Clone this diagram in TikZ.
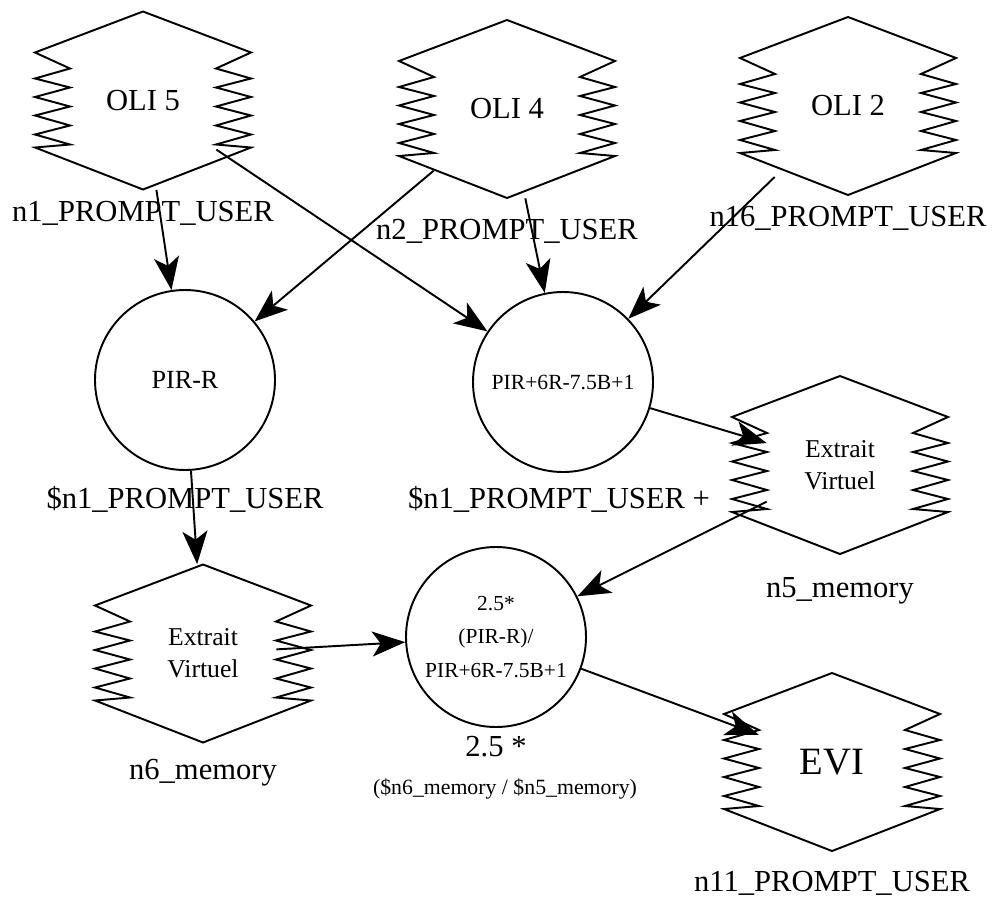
\documentclass[tikz,border=0pt]{standalone}
\usepackage{fontspec}
\setmainfont{Liberation Serif}
\usetikzlibrary{positioning, arrows.meta}

% outline of the zigzag boxes, around their centre
\newcommand{\oliborder}{(0,1.78) -- (2.16,0.96) -- (1.46,0.64) -- (2.16,0.44) -- (1.46,0.26)
    -- (2.16,0.07) -- (1.46,-0.12) -- (2.16,-0.30) -- (1.46,-0.50) -- (2.16,-0.68)
    -- (1.46,-0.88) -- (2.16,-0.94) -- (0,-1.78) -- (-2.16,-0.94) -- (-1.46,-0.88)
    -- (-2.16,-0.68) -- (-1.46,-0.50) -- (-2.16,-0.30) -- (-1.46,-0.12) -- (-2.16,0.07)
    -- (-1.46,0.26) -- (-2.16,0.44) -- (-1.46,0.64) -- (-2.16,0.96) -- cycle}

\begin{document}
\begin{tikzpicture}[
    on grid,
    every node/.style={font=\fontsize{17.4}{20}\selectfont},
    oli/.style={rectangle, minimum width=2.92cm, minimum height=3.56cm, inner sep=0pt, align=center,
        append after command={\pgfextra{\draw[line width=1.1pt, shift={(\tikzlastnode.center)}] \oliborder;}}},
    formula/.style={draw, circle, minimum size=3.6cm, inner sep=0pt, align=center, line width=1.1pt},
    varname/.style={inner sep=0pt},
    arrow/.style={-{Stealth[length=0.66cm, width=0.5cm, inset=0.17cm]}, line width=1.1pt}
]
    \useasboundingbox (0,0) rectangle (19.84,-17.98);

    \node[oli] (oli5) at (2.86,-2.01) {OLI 5};
    \node[oli, below right=0.17cm and 7.28cm of oli5] (oli4) {OLI 4};
    \node[oli, above right=0.06cm and 6.82cm of oli4] (oli2) {OLI 2};

    \node[formula, font=\fontsize{14.9}{18}\selectfont, below right=5.59cm and 0.84cm of oli5] (pirr) {PIR-R};
    \node[formula, font=\fontsize{12.3}{15}\selectfont, below right=5.46cm and 1.12cm of oli4] (pirb) {PIR+6R-7.5B+1};

    \node[oli, font=\fontsize{14.6}{18.2}\selectfont, below right=1.66cm and 5.54cm of pirb] (ext5) {Extrait\\Virtuel};
    \node[oli, font=\fontsize{14.6}{18.2}\selectfont, below right=5.47cm and 0.36cm of pirr] (ext6) {Extrait\\Virtuel};

    \node[formula, font=\fontsize{12.2}{19.3}\selectfont, above right=0.33cm and 5.86cm of ext6] (ratio) {2.5*\\(PIR-R)/\\PIR+6R-7.5B+1};
    \node[oli, font=\fontsize{22}{26}\selectfont, below right=2.5cm and 6.72cm of ratio] (evi) {EVI};

    % variable names under the nodes
    \node[varname, below=2.26cm of oli5] (l1) {n1\_PROMPT\_USER};
    \node[varname, below=2.45cm of oli4] (l2) {n2\_PROMPT\_USER};
    \node[varname, below=2.25cm of oli2] (l16) {n16\_PROMPT\_USER};
    \node[varname, below=2.39cm of pirr] (lpirr) {\$n1\_PROMPT\_USER};
    \node[varname, below left=2.35cm and 0.08cm of pirb] (lpirb) {\$n1\_PROMPT\_USER +};
    \node[varname, below=2.52cm of ext5] (l5) {n5\_memory};
    \node[varname, below=2.39cm of ext6] (l6) {n6\_memory};
    \node[varname, below=2.2cm of ratio] (lratio) {2.5 *};
    \node[varname, font=\fontsize{12.4}{15}\selectfont, below right=3.04cm and 0.18cm of ratio] (lratio2) {(\$n6\_memory / \$n5\_memory)};
    \node[varname, below=2.42cm of evi] (l11) {n11\_PROMPT\_USER};

    \draw[arrow] (oli5) -- (pirr);
    \draw[arrow] (oli5) -- (pirb);
    \draw[arrow] (oli4) -- (pirr);
    \draw[arrow] (oli4) -- (pirb);
    \draw[arrow] (oli2) -- (pirb);

    \draw[arrow] (pirr) -- (ext6);
    \draw[arrow] (pirb) -- (ext5);

    \draw[arrow] (ext5) -- (ratio);
    \draw[arrow] (ext6) -- (ratio);
    \draw[arrow] (ratio) -- (evi);

\end{tikzpicture}
\end{document}
